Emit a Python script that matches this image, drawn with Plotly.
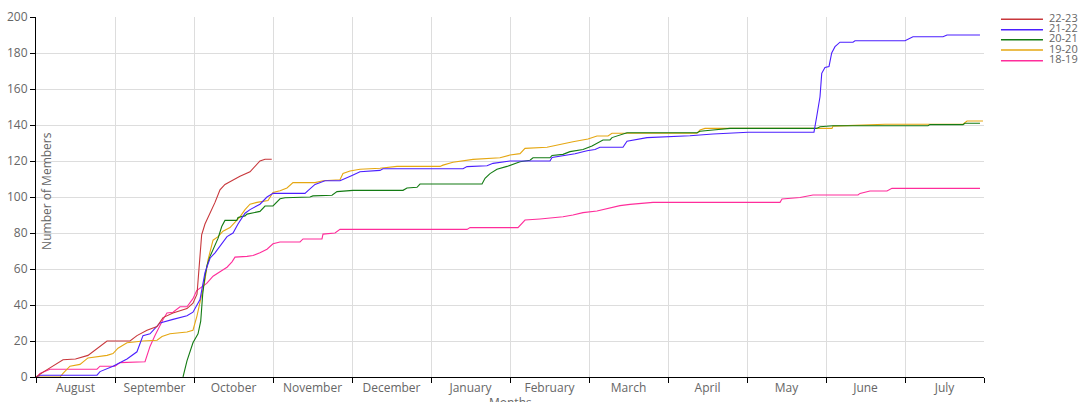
import plotly.graph_objects as go

# x = months elapsed since 1 August (0 = Aug 1, 12 = end of July)
months = ["August", "September", "October", "November", "December", "January",
          "February", "March", "April", "May", "June", "July"]
series_names = ["22-23", "21-22", "20-21", "19-20", "18-19"]
series_colors = ["#c8373b", "#4b1fff", "#137b13", "#e5a712", "#ff2d9b"]

x_2223 = [0, 0.1, 0.342, 0.5, 0.658, 0.772, 0.899, 1.19, 1.278, 1.405, 1.532, 1.608,
          1.734, 1.911, 1.987, 2.038, 2.076, 2.097, 2.139, 2.203, 2.266, 2.329, 2.392,
          2.478, 2.582, 2.709, 2.772, 2.835, 2.899, 2.984]
y_2223 = [0, 3, 9.6, 10, 12, 16, 20, 20, 23, 26, 28, 33,
          35.5, 38, 41, 46, 69, 79, 85, 90.6, 97, 104, 107,
          109, 111.5, 114, 117, 120, 121, 121]

x_2122 = [0, 0.05, 0.772, 0.81, 0.975, 1.152, 1.278, 1.354, 1.443, 1.57, 1.734, 1.911,
          1.987, 2.076, 2.139, 2.203, 2.266, 2.329, 2.418, 2.494, 2.557, 2.646, 2.709,
          2.835, 2.924, 3.0, 3.405, 3.443, 3.532, 3.658, 3.848, 4.0, 4.101, 4.354, 4.392,
          5.405, 5.456, 5.709, 5.785, 6.0, 6.506, 6.532, 6.759, 6.823, 6.975, 7.076,
          7.139, 7.43, 7.481, 7.734, 8.278, 8.57, 9.013, 9.848, 9.882, 9.924, 9.946,
          9.987, 10.038, 10.072, 10.114, 10.177, 10.342, 10.367, 11.0, 11.063, 11.101,
          11.481, 11.532, 11.949]
y_2122 = [0, 1, 1, 3, 6, 10, 14, 23, 24, 30, 32, 34,
          36, 43, 58, 66, 69, 73, 78, 80, 85, 91, 93,
          96, 100, 102, 102, 103.5, 107, 109, 109, 112, 114, 114.8, 115.7,
          115.7, 116.9, 117.4, 118.7, 120, 120, 122, 123.3, 124, 125.7, 126.4,
          127.6, 127.6, 131, 133, 134, 135, 136, 136, 144.6, 155.7, 168.7,
          171.9, 172.5, 180, 183.5, 186, 186, 186.8, 186.8, 188.2, 189,
          189, 190, 190]

x_2021 = [1.861, 1.911, 1.987, 2.051, 2.085, 2.11, 2.139, 2.165, 2.203, 2.266, 2.304,
          2.351, 2.392, 2.541, 2.557, 2.646, 2.671, 2.835, 2.899, 3.0, 3.089, 3.152,
          3.468, 3.506, 3.747, 3.81, 4.013, 4.646, 4.696, 4.823, 4.861, 5.646, 5.684,
          5.747, 5.835, 5.962, 6.038, 6.127, 6.253, 6.291, 6.506, 6.532, 6.671, 6.759,
          6.924, 7.038, 7.177, 7.266, 7.291, 7.392, 7.481, 8.367, 8.405, 8.57, 8.785,
          9.882, 9.924, 10.089, 11.291, 11.316, 11.734, 11.759, 11.949]
y_2021 = [0, 9, 19, 24, 31, 46, 56, 62, 67, 73, 77,
          83.6, 87, 87, 88.6, 89.5, 90.5, 92, 95, 95, 99, 99.6,
          100, 100.6, 101, 103, 103.7, 103.7, 105, 105.4, 107.2, 107.2, 110.4,
          113, 115.4, 117, 118.3, 119.6, 120.4, 121.8, 121.8, 123.1, 123.7, 125.2,
          126.4, 128.3, 131.7, 131.7, 133, 134.4, 135.7, 135.7, 136.5, 137.2, 138.1,
          138.1, 139, 139.6, 139.6, 140.2, 140.2, 141, 141]

x_1920 = [0, 0.304, 0.342, 0.43, 0.557, 0.658, 0.899, 0.975, 1.038, 1.152, 1.354, 1.532,
          1.595, 1.696, 1.911, 1.987, 2.038, 2.076, 2.139, 2.177, 2.241, 2.304, 2.367,
          2.456, 2.519, 2.582, 2.646, 2.709, 2.797, 2.937, 3.0, 3.089, 3.177, 3.253,
          3.532, 3.633, 3.848, 3.886, 3.975, 4.101, 4.354, 4.57, 5.114, 5.152, 5.278,
          5.532, 5.873, 6.0, 6.127, 6.19, 6.468, 6.595, 6.797, 6.987, 7.101, 7.241,
          7.291, 8.367, 8.405, 8.468, 10.076, 10.089, 10.747, 11.734, 11.785, 11.987]
y_1920 = [0, 0, 2, 6, 7, 10.6, 12, 13, 16, 19, 20, 20.4,
          22.5, 24, 25, 26, 34, 41, 54, 65, 76, 78, 81,
          83, 86, 89, 93, 96, 97, 98, 102.5, 103.5, 105, 108,
          108, 109, 109.6, 113.1, 114.4, 115.4, 116, 117, 117, 117.7, 119.3,
          120.9, 121.8, 123.3, 124.1, 127, 127.6, 128.9, 130.7, 132.2, 133.9, 133.9,
          135.4, 135.4, 137.2, 138.1, 138.1, 139.4, 140.4, 140.4, 142.2, 142.2]

x_1819 = [0, 0.013, 0.05, 0.177, 0.772, 0.81, 1.0, 1.063, 1.38, 1.443, 1.506, 1.57,
          1.608, 1.658, 1.734, 1.823, 1.911, 1.987, 2.034, 2.161, 2.241, 2.329, 2.418,
          2.481, 2.519, 2.671, 2.747, 2.835, 2.924, 3.0, 3.089, 3.342, 3.38, 3.62,
          3.633, 3.785, 3.848, 5.456, 5.494, 6.101, 6.19, 6.38, 6.671, 6.797, 6.924,
          7.101, 7.266, 7.392, 7.519, 7.81, 9.418, 9.443, 9.671, 9.835, 10.405, 10.43,
          10.557, 10.772, 10.835, 11.949]
y_1819 = [0, 0, 2, 4.3, 4.3, 6, 6, 8, 8.5, 17, 23, 29,
          32, 35.6, 36, 39, 39, 43.5, 48, 52, 56, 58.5, 61,
          64, 66.6, 67, 67.5, 69, 71, 74, 75, 75, 76.7, 76.7,
          79.4, 80, 82, 82, 83, 83, 87.2, 87.8, 89, 90, 91.3,
          92.2, 93.7, 95.2, 95.9, 97, 97, 98.9, 99.7, 101.1, 101.1, 102,
          103.3, 103.3, 104.8, 104.8]

xs = [x_2223, x_2122, x_2021, x_1920, x_1819]
ys = [y_2223, y_2122, y_2021, y_1920, y_1819]

FONT = "Open Sans, sans-serif"
fig = go.Figure()
# draw oldest first so newer seasons sit on top
for name, col, x, y in reversed(list(zip(series_names, series_colors, xs, ys))):
    fig.add_trace(go.Scatter(x=x, y=y, mode="lines", name=name,
                             line=dict(color=col, width=1.1), showlegend=False))

fig.update_layout(
    width=1081, height=402,
    margin=dict(l=36, r=97, t=17, b=25, autoexpand=False),
    paper_bgcolor="white", plot_bgcolor="white",
    font=dict(family=FONT, size=12, color="#666666"),
    showlegend=False,
)
fig.update_xaxes(
    range=[0, 12], tickmode="array",
    tickvals=[i + 0.5 for i in range(12)], ticktext=months,
    ticks="", showgrid=False, zeroline=False, automargin=False,
    showline=True, linecolor="#000000", linewidth=1,
    tickfont=dict(size=12, color="#666666"),
    minor=dict(tickmode="array", tickvals=list(range(13)), ticks="outside",
               ticklen=5, tickcolor="#000000", showgrid=True,
               gridcolor="#dddddd", gridwidth=1),
)
fig.update_yaxes(
    range=[0, 200], tickmode="linear", tick0=0, dtick=20,
    ticks="outside", ticklen=5, tickcolor="#000000", automargin=False,
    showgrid=True, gridcolor="#dddddd", gridwidth=1, zeroline=False,
    showline=True, linecolor="#000000", linewidth=1,
    tickfont=dict(size=12, color="#666666"),
)

# axis titles
fig.add_annotation(text="Number of Members", xref="paper", yref="paper",
                   x=0.0116, y=0.517, textangle=-90, showarrow=False,
                   font=dict(size=12, color="#666666"),
                   xanchor="center", yanchor="middle")
fig.add_annotation(text="Months", xref="paper", yref="paper",
                   x=0.5, y=-0.042, showarrow=False,
                   font=dict(size=12, color="#666666"),
                   xanchor="center", yanchor="top")

# legend (compact, as in the reference)
leg_y = [0.9936, 0.9647, 0.9369, 0.9083, 0.8786]
for name, col, ly in zip(series_names, series_colors, leg_y):
    fig.add_shape(type="line", xref="paper", yref="paper",
                  x0=1.0179, x1=1.0622, y0=ly, y1=ly,
                  line=dict(color=col, width=1.5))
    fig.add_annotation(text=name, xref="paper", yref="paper",
                       x=1.0665, y=ly + 0.005, showarrow=False,
                       xanchor="left", yanchor="middle",
                       font=dict(size=11, color="#666666"))

fig.write_html(
    "out.html",
    config={"displayModeBar": False},
    post_script="document.body.style.margin='0';document.body.style.overflow='hidden';",
)
